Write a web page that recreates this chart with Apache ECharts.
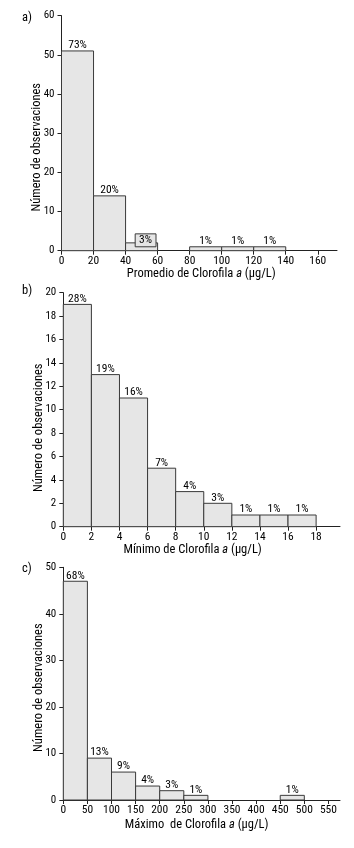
<!DOCTYPE html>
<html>
<head>
<meta charset="utf-8">
<script src="https://cdn.jsdelivr.net/npm/echarts@6/dist/echarts.min.js"></script>
<style>
html,body{margin:0;padding:0;background:#fff}
#chart{width:354px;height:848px}
</style>
</head>
<body>
<div id="chart"></div>
<script>
// a) Promedio de clorofila
const binsA = [[0, 20], [20, 40], [40, 60], [80, 100], [100, 120], [120, 140]]
const countsA = [51, 14, 2, 1, 1, 1]
const pctA = ['73%', '20%', '', '1%', '1%', '1%']
// recuadro del 3% que en el original queda encima de la barra 40-60
const boxA = [[46, 59, 1, 4.3]]
const boxLabelA = ['3%']
const xTicksA = [0, 20, 40, 60, 80, 100, 120, 140, 160]
const yTicksA = [0, 10, 20, 30, 40, 50, 60]

// b) Minimo de clorofila
const binsB = [[0, 2], [2, 4], [4, 6], [6, 8], [8, 10], [10, 12], [12, 14], [14, 16], [16, 18]]
const countsB = [19, 13, 11, 5, 3, 2, 1, 1, 1]
const pctB = ['28%', '19%', '16%', '7%', '4%', '3%', '1%', '1%', '1%']
const xTicksB = [0, 2, 4, 6, 8, 10, 12, 14, 16, 18]
const yTicksB = [0, 2, 4, 6, 8, 10, 12, 14, 16, 18, 20]

// c) Maximo de clorofila
const binsC = [[0, 50], [50, 100], [100, 150], [150, 200], [200, 250], [250, 300], [450, 500]]
const countsC = [47, 9, 6, 3, 2, 1, 1]
const pctC = ['68%', '13%', '9%', '4%', '3%', '1%', '1%']
const xTicksC = [0, 50, 100, 150, 200, 250, 300, 350, 400, 450, 500, 550]
const yTicksC = [0, 10, 20, 30, 40, 50]

const FONT = '"Roboto Condensed", "Liberation Sans", sans-serif'
const FILL = '#e6e6e6'
const EDGE = '#3a3a3a'
const INK = '#000'

const chart = echarts.init(document.getElementById('chart'))

// cada barra del histograma va de x0 a x1 con altura = conteo
const makeRender = (labels, inside) => (params, api) => {
  const x0 = api.value(0), x1 = api.value(1)
  const yb = inside ? api.value(2) : 0
  const yt = inside ? api.value(3) : api.value(2)
  const p0 = api.coord([x0, yt])
  const p1 = api.coord([x1, yb])
  const children = [{
    type: 'rect',
    shape: {x: p0[0], y: p0[1], width: p1[0] - p0[0], height: p1[1] - p0[1]},
    style: {fill: FILL, stroke: EDGE, lineWidth: 1}
  }]
  const txt = labels[params.dataIndex]
  if (txt) {
    children.push({
      type: 'text',
      x: (p0[0] + p1[0]) / 2,
      y: p0[1] + 0.5,
      style: {
        text: txt, fill: INK, font: '11.5px ' + FONT,
        align: 'center', verticalAlign: inside ? 'top' : 'bottom'
      }
    })
  }
  return {type: 'group', children}
}

const toData = (bins, counts) => bins.map((b, i) => [b[0], b[1], counts[i]])

const xAxisOf = (gi, max, ticks, name, gap, pad) => ({
  gridIndex: gi, type: 'value', min: 0, max: max,
  axisLine: {onZero: false, lineStyle: {color: '#222', width: 1}},
  axisTick: {customValues: ticks, length: 4, lineStyle: {color: '#222'}},
  axisLabel: {customValues: ticks, color: INK, fontFamily: FONT, fontSize: 11.5, margin: 4},
  splitLine: {show: false},
  name: name, nameLocation: 'middle', nameGap: gap,
  nameTextStyle: {color: INK, fontFamily: FONT, fontSize: 12.5, padding: pad,
    rich: {i: {fontStyle: 'italic', fontFamily: FONT, fontSize: 12.5, color: INK}}}
})

const yAxisOf = (gi, max, ticks, shift) => ({
  gridIndex: gi, type: 'value', min: 0, max: max,
  axisLine: {show: true, lineStyle: {color: '#222', width: 1}},
  axisTick: {show: true, customValues: ticks, length: 4, lineStyle: {color: '#222'}},
  axisLabel: {customValues: ticks, color: INK, fontFamily: FONT, fontSize: 11, margin: 7},
  splitLine: {show: false},
  name: 'Número de observaciones', nameLocation: 'middle', nameGap: 18, nameRotate: 90,
  nameMoveOverlap: false,
  nameTextStyle: {color: INK, fontFamily: FONT, fontSize: 12.5, padding: [0, shift, 0, 0]}
})

const panelLabel = (txt, top) => ({
  type: 'text', left: 22, top: top,
  style: {text: txt, fill: INK, font: '12.5px ' + FONT}
})

chart.setOption({
  animation: false,
  grid: [
    {left: 61.5, top: 15.7, width: 275.5, height: 235, outerBoundsMode: 'none'},
    {left: 63.3, top: 292.7, width: 276.7, height: 234, outerBoundsMode: 'none'},
    {left: 63.3, top: 567.3, width: 276.7, height: 232.7, outerBoundsMode: 'none'}
  ],
  xAxis: [
    xAxisOf(0, 172, xTicksA, 'Promedio de Clorofila {i|a} (µg/L)', 16, [0, 0, 0, 4]),
    xAxisOf(1, 19.7, xTicksB, 'Mínimo de Clorofila {i|a} (µg/L)', 16, [0, 18, 0, 0]),
    xAxisOf(2, 574, xTicksC, 'Máximo  de Clorofila {i|a} (µg/L)', 18, [0, 10, 0, 0])
  ],
  yAxis: [
    yAxisOf(0, 60, yTicksA, 28),
    yAxisOf(1, 20, yTicksB, 36),
    yAxisOf(2, 50, yTicksC, 8)
  ],
  graphic: [
    panelLabel('a)', 11),
    panelLabel('b)', 284),
    panelLabel('c)', 562)
  ],
  series: [
    {type: 'custom', xAxisIndex: 0, yAxisIndex: 0, data: toData(binsA, countsA),
      encode: {x: [0, 1], y: 2}, renderItem: makeRender(pctA, false)},
    {type: 'custom', xAxisIndex: 0, yAxisIndex: 0, data: boxA,
      encode: {x: [0, 1], y: [2, 3]}, renderItem: makeRender(boxLabelA, true)},
    {type: 'custom', xAxisIndex: 1, yAxisIndex: 1, data: toData(binsB, countsB),
      encode: {x: [0, 1], y: 2}, renderItem: makeRender(pctB, false)},
    {type: 'custom', xAxisIndex: 2, yAxisIndex: 2, data: toData(binsC, countsC),
      encode: {x: [0, 1], y: 2}, renderItem: makeRender(pctC, false)}
  ]
})
</script>
</body>
</html>
